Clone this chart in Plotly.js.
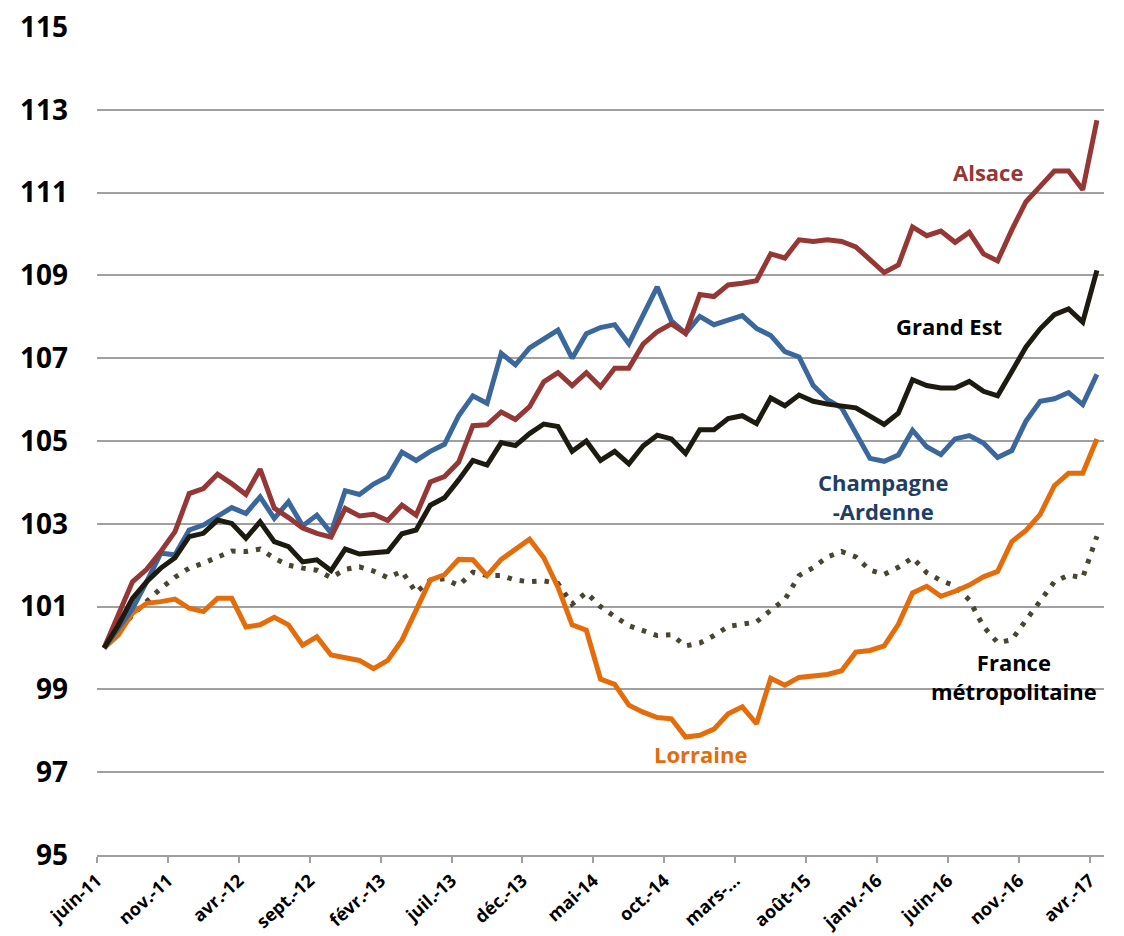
<!DOCTYPE html>
<html>
<head>
<meta charset="utf-8">
<script src="https://cdn.plot.ly/plotly-3.0.1.min.js"></script>
<style>
  html, body { margin: 0; padding: 0; background: #ffffff; }
  #chart { width: 1124px; height: 936px; }
</style>
</head>
<body>
<div id="chart"></div>
<script>
// Mois (juin 2011 -> avril 2017), une valeur par mois
const months = [
  "juin-11", "juil.-11", "août-11", "sept.-11", "oct.-11", "nov.-11", "déc.-11",
  "janv.-12", "févr.-12", "mars-12", "avr.-12", "mai-12", "juin-12", "juil.-12", "août-12", "sept.-12", "oct.-12", "nov.-12", "déc.-12",
  "janv.-13", "févr.-13", "mars-13", "avr.-13", "mai-13", "juin-13", "juil.-13", "août-13", "sept.-13", "oct.-13", "nov.-13", "déc.-13",
  "janv.-14", "févr.-14", "mars-14", "avr.-14", "mai-14", "juin-14", "juil.-14", "août-14", "sept.-14", "oct.-14", "nov.-14", "déc.-14",
  "janv.-15", "févr.-15", "mars-15", "avr.-15", "mai-15", "juin-15", "juil.-15", "août-15", "sept.-15", "oct.-15", "nov.-15", "déc.-15",
  "janv.-16", "févr.-16", "mars-16", "avr.-16", "mai-16", "juin-16", "juil.-16", "août-16", "sept.-16", "oct.-16", "nov.-16", "déc.-16",
  "janv.-17", "févr.-17", "mars-17", "avr.-17"
]

// Étiquettes affichées sur l'axe (une tous les 5 mois)
const tickLabels = [
  "juin-11", "nov.-11", "avr.-12", "sept.-12", "févr.-13", "juil.-13", "déc.-13", "mai-14",
  "oct.-14", "mars-…", "août-15", "janv.-16", "juin-16", "nov.-16", "avr.-17"
]

const alsace = [
  100.0, 100.8, 101.6, 101.9, 102.33, 102.81, 103.73, 103.85, 104.2, 103.97,
  103.71, 104.32, 103.38, 103.15, 102.9, 102.77, 102.68, 103.37, 103.19, 103.23,
  103.08, 103.45, 103.21, 104.01, 104.14, 104.49, 105.37, 105.39, 105.70, 105.52,
  105.83, 106.43, 106.65, 106.34, 106.65, 106.31, 106.76, 106.76, 107.34, 107.64,
  107.83, 107.6, 108.54, 108.49, 108.77, 108.81, 108.87, 109.52, 109.42, 109.86,
  109.82, 109.86, 109.82, 109.69, 109.39, 109.07, 109.25, 110.17, 109.96, 110.07,
  109.8, 110.04, 109.52, 109.35, 110.1, 110.78, 111.15, 111.52, 111.52, 111.07,
  112.75
]

const grandEst = [
  100.0, 100.55, 101.2, 101.6, 101.93, 102.18, 102.69, 102.77, 103.09, 103.01,
  102.65, 103.05, 102.57, 102.45, 102.08, 102.13, 101.87, 102.39, 102.27, 102.3,
  102.33, 102.76, 102.85, 103.45, 103.63, 104.06, 104.53, 104.42, 104.96, 104.89,
  105.18, 105.41, 105.35, 104.75, 105.0, 104.53, 104.75, 104.45, 104.88, 105.14,
  105.05, 104.7, 105.27, 105.27, 105.54, 105.61, 105.42, 106.04, 105.85, 106.11,
  105.96, 105.89, 105.85, 105.8, 105.6, 105.4, 105.67, 106.48, 106.34, 106.28,
  106.28, 106.44, 106.2, 106.09, 106.68, 107.27, 107.71, 108.05, 108.19, 107.87,
  109.12
]

const champagne = [
  100.0, 100.45, 100.95, 101.6, 102.29, 102.25, 102.85, 102.97, 103.19, 103.39,
  103.25, 103.65, 103.13, 103.53, 102.95, 103.21, 102.78, 103.8, 103.71, 103.96,
  104.14, 104.73, 104.53, 104.75, 104.92, 105.61, 106.09, 105.91, 107.12, 106.84,
  107.25, 107.47, 107.68, 107.0, 107.59, 107.74, 107.81, 107.35, 108.03, 108.72,
  107.9, 107.6, 108.01, 107.81, 107.92, 108.03, 107.72, 107.55, 107.16, 107.03,
  106.34, 106.0, 105.8, 105.2, 104.58, 104.51, 104.66, 105.26, 104.86, 104.67,
  105.05, 105.13, 104.95, 104.6, 104.77, 105.48, 105.96, 106.02, 106.17, 105.88,
  106.61
]

const lorraine = [
  100.0, 100.31, 100.84, 101.08, 101.12, 101.18, 100.96, 100.88, 101.2, 101.2,
  100.51, 100.56, 100.74, 100.56, 100.07, 100.27, 99.83, 99.77, 99.7, 99.5,
  99.7, 100.19, 100.95, 101.64, 101.77, 102.14, 102.13, 101.75, 102.14, 102.4,
  102.63, 102.18, 101.47, 100.56, 100.43, 99.25, 99.12, 98.62, 98.45, 98.32,
  98.29, 97.85, 97.89, 98.04, 98.41, 98.58, 98.17, 99.27, 99.1, 99.29,
  99.33, 99.36, 99.45, 99.9, 99.94, 100.05, 100.57, 101.33, 101.49, 101.25,
  101.37, 101.52, 101.72, 101.85, 102.57, 102.84, 103.23, 103.92, 104.22, 104.22,
  105.05
]

const franceMetro = [
  100.0, 100.39, 100.8, 101.12, 101.44, 101.71, 101.93, 102.05, 102.19, 102.34,
  102.33, 102.39, 102.17, 102.0, 101.93, 101.88, 101.7, 101.9, 101.96, 101.86,
  101.7, 101.85, 101.34, 101.64, 101.67, 101.51, 101.83, 101.75, 101.75, 101.64,
  101.6, 101.62, 101.56, 101.06, 101.34, 101.0, 100.76, 100.54, 100.42, 100.3,
  100.32, 100.05, 100.12, 100.3, 100.52, 100.59, 100.63, 100.91, 101.17, 101.75,
  101.94, 102.2, 102.33, 102.2, 101.88, 101.78, 101.95, 102.18, 101.82, 101.63,
  101.5, 101.16, 100.52, 100.13, 100.2, 100.67, 101.16, 101.6, 101.76, 101.7,
  102.7
]

const FONT = "'Open Sans', 'DejaVu Sans', sans-serif"
const xs = months.map((m, i) => i)

function serie(name, ys, color, dash, width) {
  return {
    x: xs,
    y: ys,
    text: months,
    type: "scatter",
    mode: "lines",
    name: name,
    line: { color: color, width: width || 5, dash: dash || "solid" },
    hoverinfo: "skip",
  }
}

const traces = [
  serie("France métropolitaine", franceMetro, "#4a4530", "4.5px,8px", 5),
  serie("Lorraine", lorraine, "#e46c0a"),
  serie("Champagne-Ardenne", champagne, "#3a679c"),
  serie("Alsace", alsace, "#953735"),
  serie("Grand Est", grandEst, "#1d1b10"),
]

function label(text, x, y, color) {
  return {
    x: x, y: y, xref: "x", yref: "y",
    text: text,
    showarrow: false,
    align: "center",
    font: { family: FONT, size: 22, color: color, weight: 700 },
  }
}

const layout = {
  width: 1124,
  height: 936,
  margin: { l: 97, r: 20, t: 27, b: 81 },
  paper_bgcolor: "#ffffff",
  plot_bgcolor: "#ffffff",
  showlegend: false,
  font: { family: FONT, color: "#000000" },
  xaxis: {
    range: [-0.5, 70.5],
    tickmode: "array",
    tickvals: tickLabels.map((t, k) => 5 * k - 0.5),
    ticktext: tickLabels,
    tickangle: -42,
    ticks: "outside",
    ticklen: 6,
    tickwidth: 2,
    tickcolor: "#a0a0a0",
    showline: true,
    linecolor: "#a0a0a0",
    linewidth: 2,
    showgrid: false,
    zeroline: false,
    tickfont: { family: FONT, size: 18, color: "#000000", weight: 700 },
  },
  yaxis: {
    range: [95, 115],
    tickmode: "linear",
    tick0: 95,
    dtick: 2,
    showgrid: true,
    gridcolor: "#a0a0a0",
    gridwidth: 2,
    zeroline: false,
    showline: false,
    ticks: "",
    ticklabelstandoff: 28,
    tickfont: { family: FONT, size: 28, color: "#000000", weight: 700 },
  },
  annotations: [
    label("Alsace", 62.3, 111.5, "#953735"),
    label("Grand Est", 59.6, 107.78, "#000000"),
    label("Champagne<br>-Ardenne", 54.9, 103.67, "#1f3d66"),
    label("France<br>métropolitaine", 64.15, 99.32, "#000000"),
    label("Lorraine", 42.1, 97.44, "#e46c0a"),
  ],
}

Plotly.newPlot("chart", traces, layout, { displayModeBar: false, staticPlot: true })
</script>
</body>
</html>
